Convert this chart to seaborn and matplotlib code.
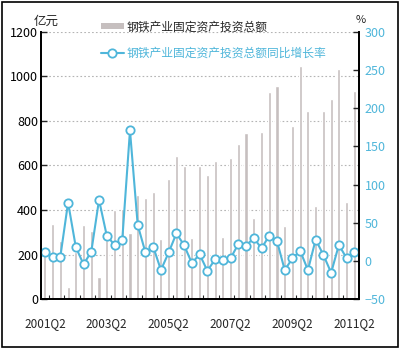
import numpy as np
import pandas as pd
import matplotlib
matplotlib.use('Agg')
import matplotlib.pyplot as plt
import seaborn as sns
from matplotlib.lines import Line2D
from matplotlib.patches import Patch, Rectangle

# quarterly data, 2001Q2 .. 2011Q2
invest = [220, 337, 262, 53, 210, 333, 306, 100, 265, 400, 405, 298, 468, 453,
          483, 270, 539, 641, 596, 273, 599, 558, 621, 278, 633, 696, 745, 362,
          750, 928, 955, 326, 779, 1049, 846, 416, 846, 899, 1035, 435, 933]
growth = [11, 5.5, 5.5, 76.5, 18, -4.5, 12, 80, 33, 21, 27, 171, 47, 11,
          18.6, -12, 11, 36, 20.5, -3, 8.7, -13, 2, 1, 3.4, 22, 20, 30,
          16.5, 33, 26, -12, 3.4, 13, -12, 28, 7.7, -15.5, 21, 3.4, 11.3]
tick_pos = [0, 8, 16, 24, 32, 40]
tick_labels = ['2001Q2', '2003Q2', '2005Q2', '2007Q2', '2009Q2', '2011Q2']

bar_label = '钢铁产业固定资产投资总额'
line_label = '钢铁产业固定资产投资总额同比增长率'

bar_color = '#c6bfbf'
line_color = '#4fb6da'

df = pd.DataFrame({'idx': np.arange(len(invest)), 'invest': invest, 'growth': growth})

sns.set_theme(style='white')
plt.rcParams['font.family'] = ['Noto Sans CJK SC', 'DejaVu Sans']

fig = plt.figure(figsize=(4.0, 3.51), dpi=100)
ax = fig.add_axes([0.1025, 0.148, 0.795, 0.761])

sns.barplot(data=df, x='idx', y='invest', color=bar_color, width=0.4,
            saturation=1, ax=ax, zorder=2)
ax.set_ylim(0, 1200)
ax.set_xlim(-0.5, 40.6)
ax.set_yticks([0, 200, 400, 600, 800, 1000, 1200])
ax.yaxis.grid(True, linestyle=(0, (1.5, 2)), color='#b4b4b4', linewidth=0.8, zorder=0)
ax.set_axisbelow(True)
ax.set_xlabel('')
ax.set_ylabel('')

ax2 = ax.twinx()
sns.lineplot(data=df, x='idx', y='growth', color=line_color, linewidth=1.5,
             marker='o', markersize=6, markerfacecolor='white',
             markeredgecolor=line_color, markeredgewidth=1.3, ax=ax2)
ax2.set_ylim(-50, 300)
ax2.set_yticks([-50, 0, 50, 100, 150, 200, 250, 300])
ax2.set_xlim(-0.5, 40.6)
ax2.set_ylabel('')
ax2.set_xlabel('')

ax.set_xticks(tick_pos)
ax.set_xticklabels(tick_labels)
ax.set_xticks(np.arange(0.5, 40, 2), minor=True)

for a in (ax, ax2):
    a.spines['top'].set_visible(False)
    for s in ('left', 'right', 'bottom'):
        a.spines[s].set_color('black')
        a.spines[s].set_linewidth(1.3)

ax.tick_params(axis='y', direction='in', length=4, width=1, pad=2,
               labelsize=9, labelcolor='black', left=True)
ax.tick_params(axis='x', which='major', length=0, pad=13, labelsize=8.5)
ax.tick_params(axis='x', which='minor', direction='in', length=3, width=0.8, bottom=True)
ax2.tick_params(axis='y', direction='in', length=4, width=1, pad=4,
                labelsize=9, labelcolor=line_color, right=True)

fig.text(0.115, 0.938, '亿元', fontsize=9, ha='center', va='center')
fig.text(0.902, 0.942, '%', fontsize=8, ha='center', va='center')

handles = [Patch(facecolor=bar_color, edgecolor='none'),
           Line2D([], [], color=line_color, linewidth=1.5, marker='o', markersize=6,
                  markerfacecolor='white', markeredgecolor=line_color, markeredgewidth=1.3)]
leg = fig.legend(handles, [bar_label, line_label], loc='upper left',
                 bbox_to_anchor=(0.225, 0.972), frameon=False, fontsize=8.5,
                 handlelength=2.0, handletextpad=0.2, labelspacing=1.15,
                 handleheight=0.4)
leg.get_texts()[1].set_color(line_color)

fig.patches.append(Rectangle((0.005, 0.01), 0.99, 0.985, transform=fig.transFigure,
                             fill=False, edgecolor='black', linewidth=1.2))

fig.savefig('out.png', dpi=100)
